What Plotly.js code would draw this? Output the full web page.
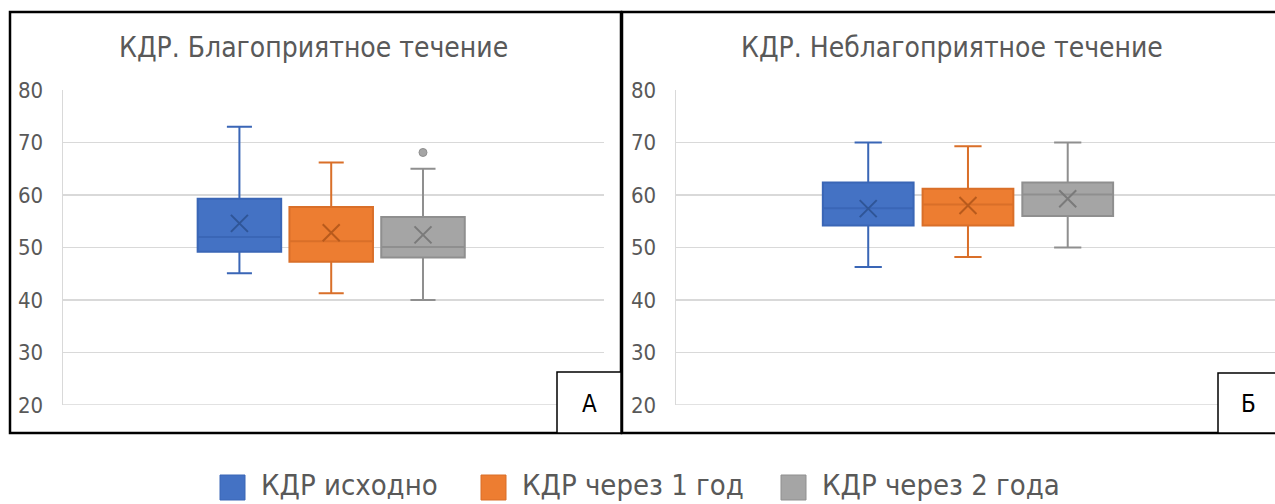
<!DOCTYPE html>
<html>
<head>
<meta charset="utf-8">
<script src="https://cdn.plot.ly/plotly-3.0.1.min.js"></script>
<style>html,body{margin:0;padding:0;background:#fff;}#chart{width:1275px;height:504px;}</style>
</head>
<body>
<div id="chart"></div>
<script>
// ---- data ----
const seriesNames = ['КДР исходно', 'КДР через 1 год', 'КДР через 2 года'];
const panelTitles = ['КДР. Благоприятное течение', 'КДР. Неблагоприятное течение'];
const panelLabels = ['А', 'Б'];
const yTicks = [20, 30, 40, 50, 60, 70, 80];

// Favourable course (panel A)
const favLower  = [45.1, 41.3, 40.0];
const favQ1     = [49.2, 47.3, 48.1];
const favMedian = [52.0, 51.2, 50.1];
const favQ3     = [59.3, 57.7, 55.8];
const favUpper  = [73.0, 66.2, 65.0];
const favMean   = [54.6, 52.8, 52.4];
const favOutliers = [[], [], [68.1]];

// Unfavourable course (panel Б)
const unfLower  = [46.3, 48.2, 50.0];
const unfQ1     = [54.2, 54.2, 56.0];
const unfMedian = [57.5, 58.2, 60.1];
const unfQ3     = [62.4, 61.2, 62.4];
const unfUpper  = [70.0, 69.3, 70.0];
const unfMean   = [57.4, 58.0, 59.3];
const unfOutliers = [[], [], []];

// ---- styles ----
const fillColors = ['#4472C4', '#ED7D31', '#A5A5A5'];
const lineColors = ['#3A66B6', '#D96F29', '#8F8F8F'];
const meanColors = ['#2F5597', '#B85A1C', '#7A7A7A'];
const W = 1275, H = 504;
const FONT = 'Liberation Sans Narrow, DejaVu Sans Condensed, Roboto, sans-serif';
const px = x => x / W;
const py = y => 1 - y / H;

const panels = [
  {lower: favLower, q1: favQ1, med: favMedian, q3: favQ3, upper: favUpper, mean: favMean, out: favOutliers, xa: 'x', ya: 'y'},
  {lower: unfLower, q1: unfQ1, med: unfMedian, q3: unfQ3, upper: unfUpper, mean: unfMean, out: unfOutliers, xa: 'x2', ya: 'y2'}
];

const traces = [];
panels.forEach(p => {
  seriesNames.forEach((name, i) => {
    traces.push({
      type: 'box', name: name, showlegend: false,
      x: [i], q1: [p.q1[i]], median: [p.med[i]], q3: [p.q3[i]],
      lowerfence: [p.lower[i]], upperfence: [p.upper[i]],
      width: 0.91, whiskerwidth: 0.3,
      fillcolor: fillColors[i], line: {color: lineColors[i], width: 2},
      xaxis: p.xa, yaxis: p.ya, hoverinfo: 'skip'
    });
    traces.push({
      type: 'scatter', mode: 'markers', showlegend: false,
      x: [i], y: [p.mean[i]],
      marker: {symbol: 'x-thin-open', size: 17, line: {color: meanColors[i], width: 2}, color: meanColors[i]},
      xaxis: p.xa, yaxis: p.ya, hoverinfo: 'skip'
    });
    if (p.out[i].length) {
      traces.push({
        type: 'scatter', mode: 'markers', showlegend: false,
        x: p.out[i].map(() => i), y: p.out[i],
        marker: {symbol: 'circle', size: 8, color: fillColors[i], line: {color: lineColors[i], width: 1}},
        xaxis: p.xa, yaxis: p.ya, hoverinfo: 'skip'
      });
    }
  });
});

const yaxisBase = {
  range: [20, 80], tickvals: yTicks, ticktext: yTicks.map(String),
  showgrid: true, gridcolor: '#D9D9D9', gridwidth: 1.5,
  showline: true, linecolor: '#D9D9D9', linewidth: 1.5,
  zeroline: false, ticks: '', ticklabelstandoff: 14,
  tickfont: {family: FONT, size: 22, color: '#595959'},
  fixedrange: true
};
const xaxisBase = {showticklabels: false, showgrid: false, zeroline: false, showline: false, ticks: '', fixedrange: true};

const yDom = [py(405), py(90)];

const shapes = [
  // bottom gridline (at the lowest tick) for each panel
  {type: 'line', xref: 'x domain', yref: 'y', x0: 0, x1: 1, y0: yTicks[0], y1: yTicks[0], line: {color: '#D9D9D9', width: 1.5}, layer: 'below'},
  {type: 'line', xref: 'x2 domain', yref: 'y2', x0: 0, x1: 1, y0: yTicks[0], y1: yTicks[0], line: {color: '#D9D9D9', width: 1.5}, layer: 'below'},
  {type: 'rect', xref: 'paper', yref: 'paper', x0: px(10), x1: px(621), y0: py(433), y1: py(12), line: {color: '#000', width: 2.5}},
  {type: 'rect', xref: 'paper', yref: 'paper', x0: px(622), x1: px(1285), y0: py(433), y1: py(12), line: {color: '#000', width: 2.5}},
  {type: 'rect', xref: 'paper', yref: 'paper', x0: px(557), x1: px(621), y0: py(433), y1: py(372), fillcolor: '#fff', line: {color: '#000', width: 1.5}},
  {type: 'rect', xref: 'paper', yref: 'paper', x0: px(1218), x1: px(1285), y0: py(433), y1: py(373), fillcolor: '#fff', line: {color: '#000', width: 1.5}}
];

const annotations = [
  {text: panelTitles[0], x: px(313), y: py(47), xref: 'paper', yref: 'paper', showarrow: false, xanchor: 'center', yanchor: 'middle', font: {family: FONT, size: 28, color: '#595959'}},
  {text: panelTitles[1], x: px(952), y: py(47), xref: 'paper', yref: 'paper', showarrow: false, xanchor: 'center', yanchor: 'middle', font: {family: FONT, size: 28, color: '#595959'}},
  {text: panelLabels[0], x: px(589), y: py(404), xref: 'paper', yref: 'paper', showarrow: false, xanchor: 'center', yanchor: 'middle', font: {family: FONT, size: 24, color: '#000'}},
  {text: panelLabels[1], x: px(1248), y: py(404), xref: 'paper', yref: 'paper', showarrow: false, xanchor: 'center', yanchor: 'middle', font: {family: FONT, size: 24, color: '#000'}}
];

// manual legend
const legendSquareX = [220, 481, 781];
seriesNames.forEach((name, i) => {
  const x0 = legendSquareX[i];
  shapes.push({type: 'rect', xref: 'paper', yref: 'paper', x0: px(x0), x1: px(x0 + 25), y0: py(500), y1: py(475), fillcolor: fillColors[i], line: {color: lineColors[i], width: 1}});
  annotations.push({text: name, x: px(x0 + 39), y: py(485), xref: 'paper', yref: 'paper', showarrow: false, xanchor: 'left', yanchor: 'middle', font: {family: FONT, size: 29, color: '#595959'}});
});

const layout = {
  width: W, height: H, margin: {l: 0, r: 0, t: 0, b: 0},
  paper_bgcolor: '#fff', plot_bgcolor: '#fff', showlegend: false,
  xaxis: Object.assign({}, xaxisBase, {domain: [px(63), px(604)], range: [-1.922, 3.972]}),
  yaxis: Object.assign({}, yaxisBase, {domain: yDom, anchor: 'x'}),
  xaxis2: Object.assign({}, xaxisBase, {domain: [px(676), 1], range: [-1.927, 4.078], anchor: 'y2'}),
  yaxis2: Object.assign({}, yaxisBase, {domain: yDom, anchor: 'x2'}),
  shapes: shapes, annotations: annotations
};

Plotly.newPlot('chart', traces, layout, {displayModeBar: false, staticPlot: true});
</script>
</body>
</html>
